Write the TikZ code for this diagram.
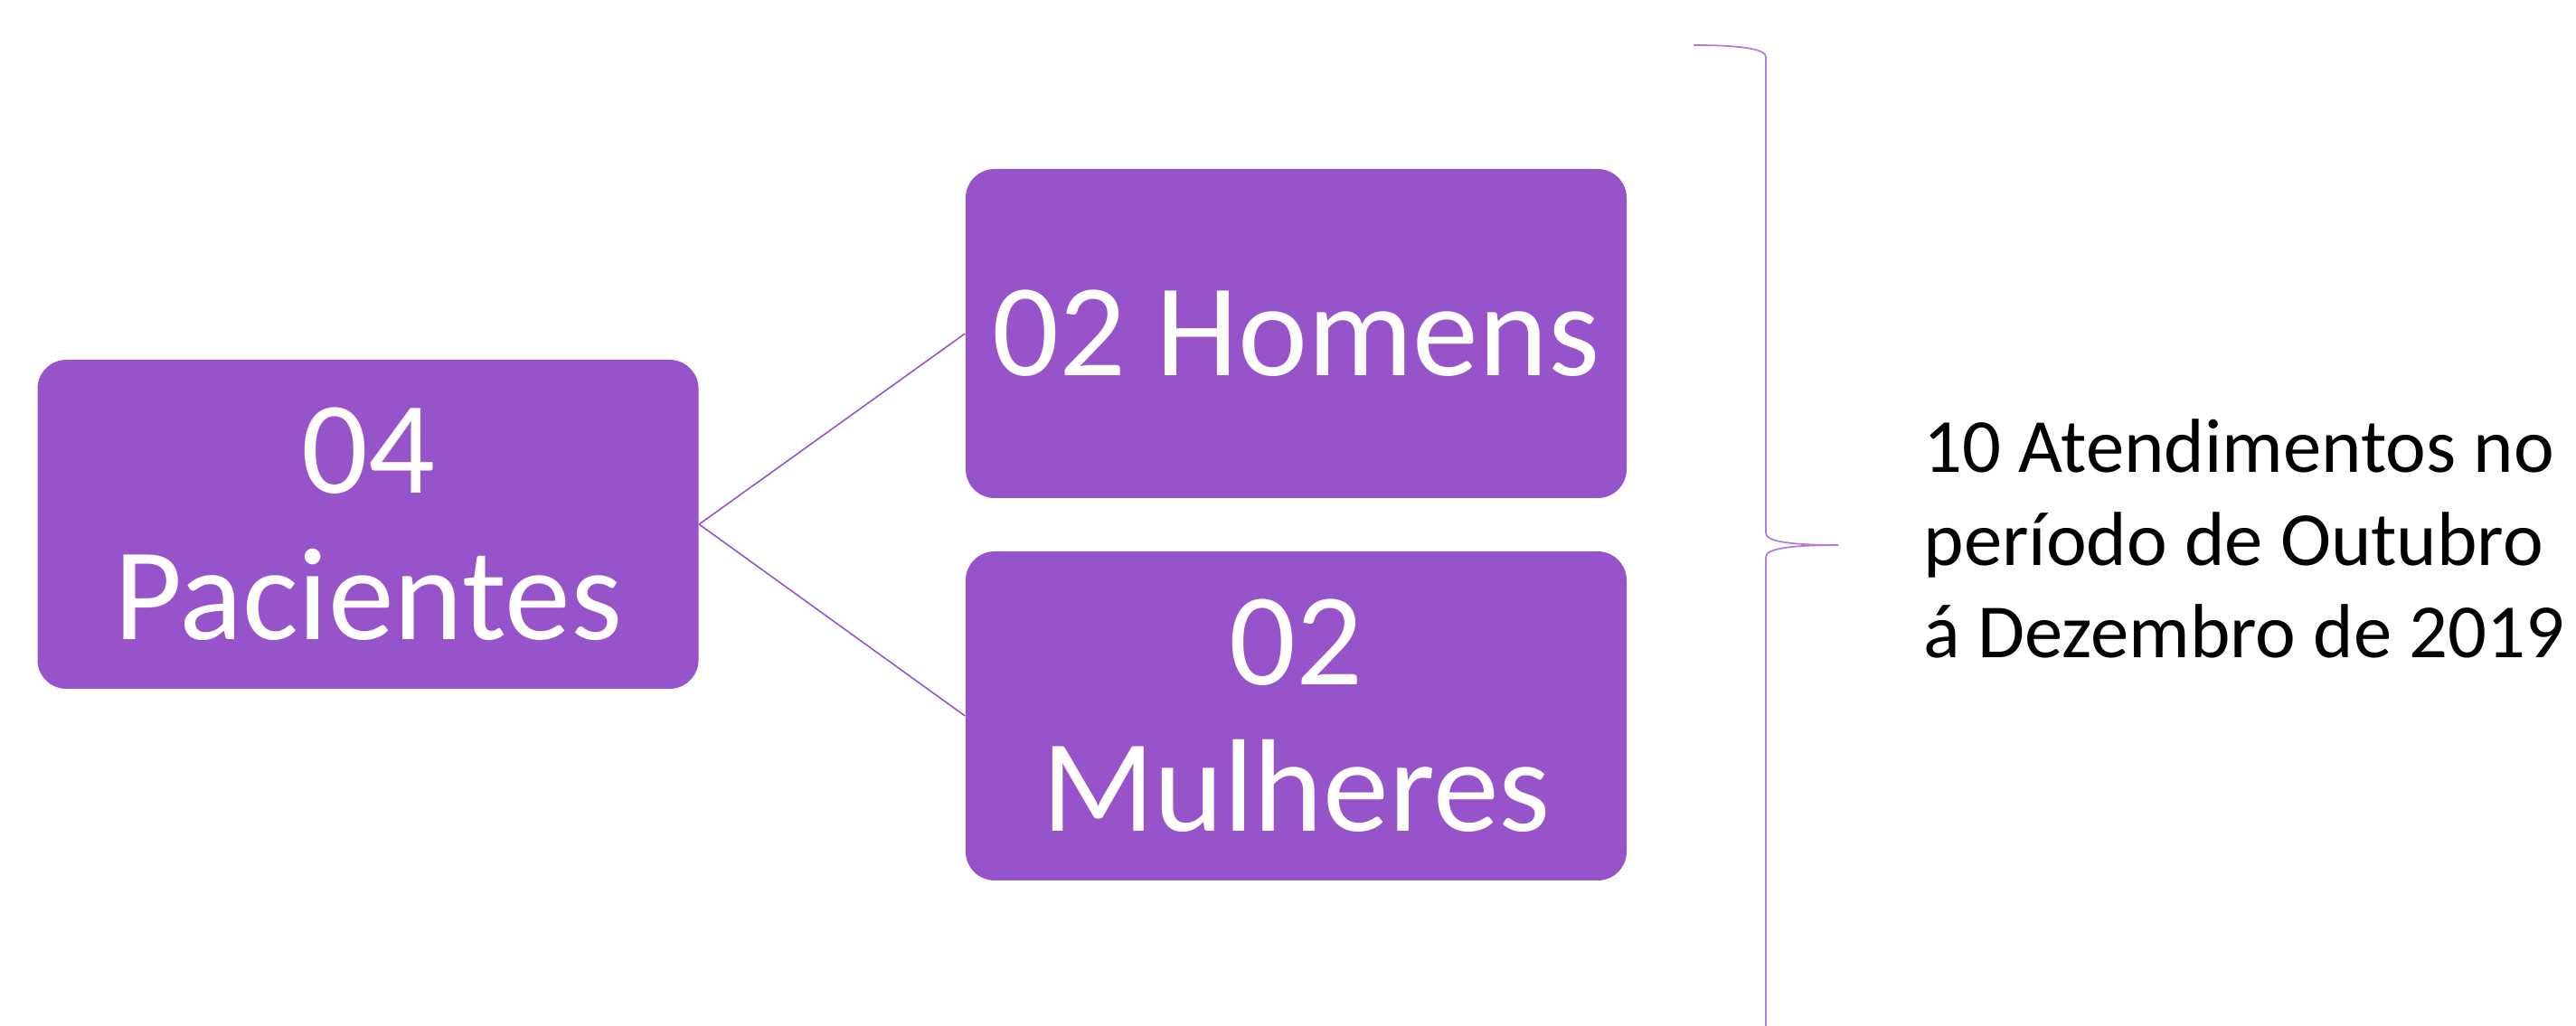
\documentclass[tikz,border=0pt]{standalone}
\usepackage{fontspec}
\setmainfont{Carlito}
\usetikzlibrary{positioning, calc}

\definecolor{roxo}{RGB}{151,83,201}
\definecolor{roxoclaro}{RGB}{178,126,222}

\tikzset{
  caixa/.style={fill=roxo, rounded corners=0.32cm, minimum width=7.31cm,
    minimum height=3.64cm, text=white, align=center, inner sep=0pt,
    font=\fontsize{41.5}{46}\selectfont},
  ligacao/.style={draw=roxo, line width=0.45pt}
}

\begin{document}
\begin{tikzpicture}
    \useasboundingbox (0,0) rectangle (28.49,11.35);

    % caixas
    \node[caixa] (pac) at (4.07,5.55) {04\\Pacientes};
    \node[caixa] (hom) at (14.335,7.66) {02 Homens};
    \node[caixa] (mul) at (14.335,3.43) {02\\Mulheres};

    % ligacoes
    \draw[ligacao] (pac.east) -- (hom.west);
    \draw[ligacao] (pac.east) -- (mul.west);

    % chave
    \coordinate (ponta) at (20.33,5.32);
    \begin{scope}
      \clip (0,0) rectangle (28.49,11.35);
      \draw[roxoclaro, line width=0.5pt] (18.73,10.85)
        .. controls (19.30,10.85) and (19.53,10.80) .. (19.53,10.72)
        -- (19.53,5.45)
        .. controls (19.53,5.36) and (19.80,5.32) .. (ponta)
        .. controls (19.80,5.32) and (19.53,5.28) .. (19.53,5.19)
        -- (19.53,-0.2);
    \end{scope}

    % texto
    \node[anchor=west, align=left, inner sep=0pt,
      font=\fontsize{24.1}{29.2}\selectfont] (txt) at (21.27,5.39)
      {10 Atendimentos no\\período de Outubro\\á Dezembro de 2019};
\end{tikzpicture}
\end{document}
